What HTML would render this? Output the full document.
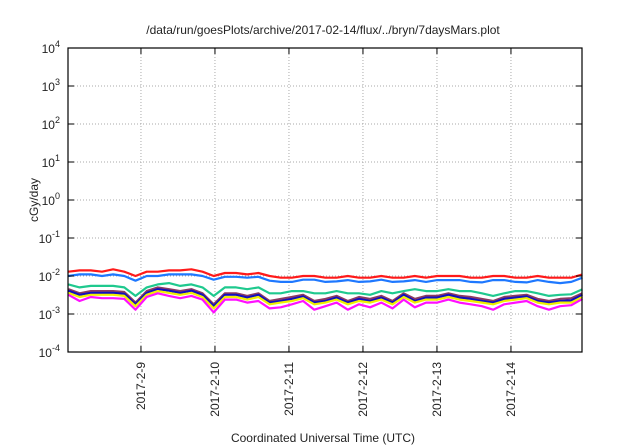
<!DOCTYPE html>
<html><head><meta charset="utf-8"><style>
body{margin:0;background:#fff;}
svg{display:block;font-family:"Liberation Sans",sans-serif;}
</style></head><body>
<svg id="chart" width="640" height="448">
<text x="323" y="34" font-size="12" text-anchor="middle" fill="#222">/data/run/goesPlots/archive/2017-02-14/flux/../bryn/7daysMars.plot</text>
<text transform="translate(38,200) rotate(-90)" font-size="12" text-anchor="middle" fill="#222">cGy/day</text>
<text x="323" y="442" font-size="12" text-anchor="middle" fill="#222">Coordinated Universal Time (UTC)</text>
<g id="grid"></g><g id="series"></g><g id="axes"></g>
</svg>
<script>
const yExps=[-4,-3,-2,-1,0,1,2,3,4];
const dayTicks=[9,10,11,12,13,14];
const dayLabels=["2017-2-9","2017-2-10","2017-2-11","2017-2-12","2017-2-13","2017-2-14"];
const tStart=8.02, tStep=0.151;
const red=[0.013,0.014,0.014,0.013,0.015,0.013,0.010,0.013,0.013,0.014,0.014,0.015,0.013,0.010,0.012,0.012,0.011,0.012,0.010,0.009,0.009,0.010,0.010,0.009,0.009,0.010,0.009,0.009,0.010,0.009,0.009,0.010,0.009,0.010,0.010,0.010,0.009,0.009,0.010,0.010,0.009,0.009,0.010,0.009,0.009,0.009,0.011];
const blue=[0.010,0.011,0.011,0.010,0.011,0.010,0.0075,0.010,0.010,0.011,0.011,0.011,0.010,0.008,0.0095,0.0095,0.009,0.0095,0.0075,0.007,0.007,0.008,0.008,0.007,0.0072,0.0078,0.007,0.0072,0.008,0.007,0.0072,0.0078,0.007,0.0078,0.0078,0.0078,0.007,0.0068,0.0078,0.0078,0.007,0.0068,0.0078,0.007,0.0065,0.007,0.009];
const teal=[0.006,0.005,0.0055,0.0055,0.0055,0.005,0.003,0.005,0.006,0.0065,0.0055,0.006,0.005,0.003,0.005,0.005,0.0045,0.005,0.0035,0.0035,0.004,0.004,0.0035,0.0035,0.004,0.0035,0.0035,0.0032,0.004,0.0035,0.004,0.0045,0.004,0.004,0.0045,0.004,0.004,0.0035,0.003,0.0035,0.004,0.004,0.0035,0.003,0.0032,0.0033,0.0045];
const purple=[0.0045,0.0035,0.004,0.004,0.004,0.0038,0.002,0.004,0.005,0.0045,0.004,0.0045,0.0035,0.0018,0.0035,0.0035,0.003,0.0035,0.0022,0.0025,0.0028,0.0032,0.0022,0.0025,0.003,0.0022,0.0028,0.0025,0.003,0.0022,0.0035,0.0025,0.003,0.003,0.0035,0.003,0.0028,0.0025,0.0022,0.0028,0.003,0.0032,0.0025,0.0022,0.0025,0.0026,0.0035];
const navy=[0.0041,0.0032,0.0036,0.0036,0.0036,0.0034,0.0018,0.0036,0.0045,0.0041,0.0036,0.0041,0.0032,0.0016,0.0032,0.0032,0.0027,0.0032,0.002,0.0022,0.0025,0.0029,0.002,0.0022,0.0027,0.002,0.0025,0.0022,0.0027,0.002,0.0032,0.0022,0.0027,0.0027,0.0032,0.0027,0.0025,0.0022,0.002,0.0025,0.0027,0.0029,0.0022,0.002,0.0022,0.0023,0.0032];
const yellow=[0.0036,0.0028,0.0032,0.0032,0.0032,0.003,0.0016,0.0032,0.004,0.0036,0.0032,0.0036,0.0028,0.0014,0.0028,0.0028,0.0024,0.0028,0.0018,0.002,0.0022,0.0026,0.0018,0.002,0.0024,0.0018,0.0022,0.002,0.0024,0.0018,0.0028,0.002,0.0024,0.0024,0.0028,0.0024,0.0022,0.002,0.0018,0.0022,0.0024,0.0026,0.002,0.0018,0.002,0.002,0.0028];
const magenta=[0.0032,0.0022,0.0028,0.0026,0.0026,0.0025,0.0013,0.0028,0.0035,0.003,0.0026,0.003,0.0024,0.0011,0.0024,0.0024,0.002,0.0022,0.0014,0.0015,0.0018,0.0022,0.0013,0.0016,0.002,0.0013,0.0018,0.0015,0.002,0.0014,0.0024,0.0015,0.002,0.002,0.0024,0.002,0.0018,0.0016,0.0013,0.0018,0.002,0.0022,0.0016,0.0013,0.0016,0.0017,0.0025];
const seriesList=[[purple,"#8b3a62","series-purple"],[teal,"#1fc98e","series-teal"],[blue,"#1e78ff","series-blue"],[red,"#ff1a1a","series-red"],[navy,"#1010c0","series-navy"],[yellow,"#f0f000","series-yellow"],[magenta,"#ff10ff","series-magenta"]];
const L=68,R=582,T=48,B=352,t0=8.014,t1=14.96;
const x=t=>L+(t-t0)/(t1-t0)*(R-L);
const y=v=>T+(4-Math.log10(v))/8*(B-T);
const NS="http://www.w3.org/2000/svg";
function mk(tag,parent,attrs){const e=document.createElementNS(NS,tag);for(const k in attrs)e.setAttribute(k,attrs[k]);parent.appendChild(e);return e;}
const grid=document.getElementById('grid'),axes=document.getElementById('axes'),sg=document.getElementById('series');
yExps.forEach(p=>{const yy=y(Math.pow(10,p));
 if(p>-4&&p<4){const g=mk('line',grid,{x1:L,x2:R,y1:yy,y2:yy,stroke:'#aaa','stroke-dasharray':'1,2','stroke-width':1});
 
 }
 mk('line',axes,{x1:L,x2:L+6,y1:yy,y2:yy,stroke:'#000'});
 mk('line',axes,{x1:R-6,x2:R,y1:yy,y2:yy,stroke:'#000'});
 const t=mk('text',axes,{x:L-8,y:yy+5,'font-size':12,'text-anchor':'end',fill:'#222'});
 
 
 t.innerHTML='10<tspan dy="-6" font-size="9">'+p+'</tspan>';});
dayTicks.forEach((d,i)=>{const xx=x(d);
 const g=mk('line',grid,{x1:xx,x2:xx,y1:T,y2:B,stroke:'#aaa','stroke-dasharray':'1,2'});
 
 
 mk('line',axes,{x1:xx,x2:xx,y1:B-6,y2:B,stroke:'#000'});
 mk('line',axes,{x1:xx,x2:xx,y1:T,y2:T+6,stroke:'#000'});
 const t=mk('text',axes,{transform:`translate(${xx+4},${B+10}) rotate(-90)`,'font-size':12,'text-anchor':'end',fill:'#222'});
 
 
 t.textContent=dayLabels[i];});
const frame=mk('rect',axes,{x:L,y:T,width:R-L,height:B-T,fill:'none',stroke:'#000','stroke-width':1.2});


seriesList.forEach(([arr,col,name])=>{
 const pts=arr.map((v,i)=>x(tStart+i*tStep).toFixed(1)+','+y(v).toFixed(1)).join(' ');
 const pl=mk('polyline',sg,{points:pts,fill:'none',stroke:col,'stroke-width':2.2,'stroke-linejoin':'round'});
 
 });
</script>
</body></html>
